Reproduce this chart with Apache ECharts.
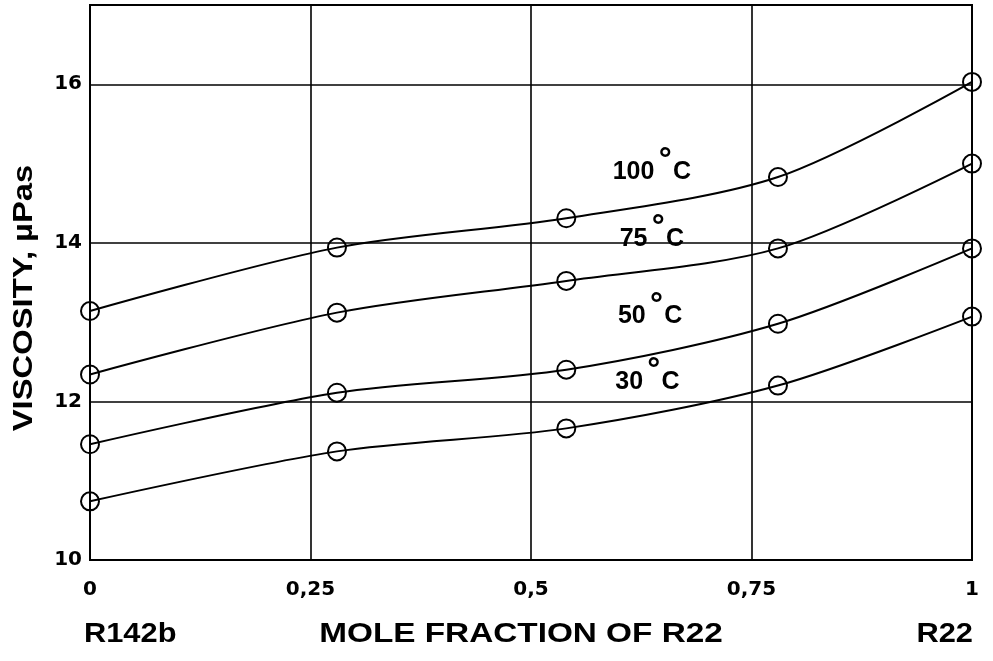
<!DOCTYPE html>
<html>
<head>
<meta charset="utf-8">
<script src="https://cdn.jsdelivr.net/npm/echarts@6/dist/echarts.min.js"></script>
<style>
html,body{margin:0;padding:0;background:#fff;}
#chart{width:993px;height:661px;}
</style>
</head>
<body>
<div id="chart"></div>
<script>
// ---- data ----
const xValues = [0, 0.28, 0.54, 0.78, 1];
const visc30 = [10.74, 11.37, 11.66, 12.20, 13.07];
const visc50 = [11.46, 12.11, 12.40, 12.98, 13.93];
const visc75 = [12.34, 13.12, 13.52, 13.93, 15.00];
const visc100 = [13.14, 13.94, 14.31, 14.83, 16.03];
const seriesNames = ['30', '50', '75', '100'];
const xTickLabels = ['0', '0,25', '0,5', '0,75', '1'];
const yTickLabels = ['10', '12', '14', '16'];
const xTitle = 'MOLE FRACTION OF R22';
const yTitle = 'VISCOSITY, µPas';
const leftComponent = 'R142b';
const rightComponent = 'R22';

// label anchor positions (data space) for curve labels
const labelAnchors = {
  '30': [0.632, 12.24],
  '50': [0.635, 13.07],
  '75': [0.637, 14.05],
  '100': [0.637, 14.89]
};

const allValues = [visc30, visc50, visc75, visc100];

const chart = echarts.init(document.getElementById('chart'), null, {renderer: 'canvas'});

const tickFont = 'DejaVu Sans';
const series = allValues.map((vals, i) => {
  const name = seriesNames[i];
  return {
    name: name + '°C',
    type: 'line',
    data: xValues.map((x, j) => [x, vals[j]]),
    smooth: 0.3,
    symbol: 'circle',
    symbolSize: 18,
    clip: false,
    lineStyle: {color: '#000', width: 2},
    itemStyle: {color: 'rgba(0,0,0,0)', borderColor: '#000', borderWidth: 2},
    emphasis: {disabled: true},
    z: 5,
    markPoint: {
      symbol: 'circle',
      symbolSize: 0,
      silent: true,
      data: [{
        coord: labelAnchors[name],
        label: {
          show: true,
          position: 'inside',
          formatter: '{n|' + name + '}{d|°}{n|C}',
          rich: {
            n: {fontFamily: 'Liberation Sans', fontWeight: 'bold', fontSize: 25, color: '#000'},
            d: {fontFamily: 'DejaVu Sans', fontWeight: 'bold', fontSize: 31, color: '#000', padding: [0, 0, 20, 3]}
          }
        }
      }]
    }
  };
});

const option = {
  backgroundColor: '#fff',
  animation: false,
  grid: {left: 90, right: 21, top: 5, bottom: 101, show: true, borderColor: '#000', borderWidth: 2, backgroundColor: 'transparent'},
  xAxis: {
    type: 'value', min: 0, max: 1, interval: 0.25,
    axisLine: {show: false}, axisTick: {show: false},
    splitLine: {show: true, lineStyle: {color: '#000', width: 1.6}},
    axisLabel: {
      margin: 20, color: '#000', fontFamily: tickFont, fontWeight: 'bold', fontSize: 20,
      formatter: v => xTickLabels[Math.round(v / 0.25)]
    }
  },
  yAxis: {
    type: 'value', min: 10, max: 17, interval: 2,
    axisLine: {show: false}, axisTick: {show: false},
    splitLine: {show: true, lineStyle: {color: '#000', width: 1.6}},
    axisLabel: {
      margin: 8, color: '#000', fontFamily: tickFont, fontWeight: 'bold', fontSize: 20,
      showMaxLabel: false,
      formatter: v => { const i = yTickLabels.indexOf(String(v)); return i >= 0 ? yTickLabels[i] : ''; }
    }
  },
  series: series,
  graphic: [
    {type: 'text', x: 84, y: 634, scaleX: 1.1, style: {text: leftComponent, font: 'bold 28px "Liberation Sans"', fill: '#000', align: 'left', verticalAlign: 'middle'}},
    {type: 'text', x: 521, y: 634, scaleX: 1.19, style: {text: xTitle, font: 'bold 28px "Liberation Sans"', fill: '#000', align: 'center', verticalAlign: 'middle'}},
    {type: 'text', x: 973, y: 634, scaleX: 1.1, style: {text: rightComponent, font: 'bold 28px "Liberation Sans"', fill: '#000', align: 'right', verticalAlign: 'middle'}},
    {type: 'text', x: 24, y: 298, rotation: Math.PI / 2, scaleX: 1.17, style: {text: yTitle, font: 'bold 28px "Liberation Sans"', fill: '#000', align: 'center', verticalAlign: 'middle'}}
  ]
};
chart.setOption(option);
</script>
</body>
</html>
